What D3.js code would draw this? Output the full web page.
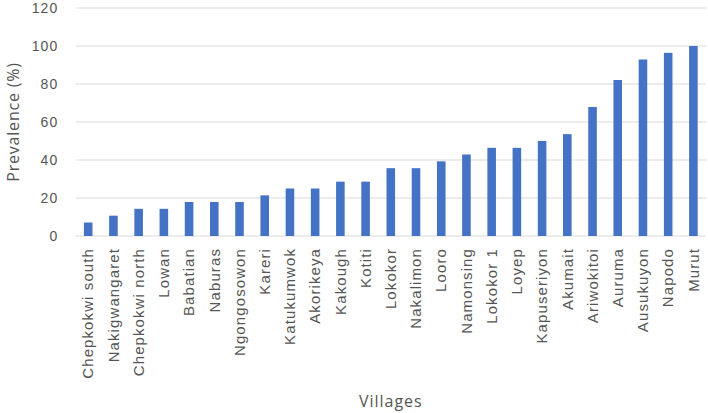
<!DOCTYPE html>
<html>
<head>
<meta charset="utf-8">
<script src="https://cdn.jsdelivr.net/npm/d3@7"></script>
<style>
  body { margin: 0; background: #fff; }
  svg { display: block; font-family: "Open Sans", "Liberation Sans", sans-serif; }
  .tick text { fill: #555; }
</style>
</head>
<body>
<div id="chart"></div>
<script>
"use strict";
const villages = ["Chepkokwi south", "Nakigwangaret", "Chepkokwi north", "Lowan", "Babatian",
    "Naburas", "Ngongosowon", "Kareri", "Katukumwok", "Akorikeya", "Kakough", "Kotiti",
    "Lokokor", "Nakalimon", "Looro", "Namonsing", "Lokokor 1", "Loyep", "Kapuseriyon",
    "Akumait", "Ariwokitoi", "Auruma", "Ausukuyon", "Napodo", "Murut"];
const prevalence = [7.1, 10.7, 14.3, 14.3, 17.9, 17.9, 17.9, 21.4, 25, 25, 28.6, 28.6,
    35.7, 35.7, 39.3, 42.9, 46.4, 46.4, 50, 53.6, 67.9, 82.1, 92.9, 96.4, 100];
const yTicks = [0, 20, 40, 60, 80, 100, 120];

var width = 708, height = 413;
var margin = { top: 8, right: 2, bottom: 177, left: 75.6 };
var plotW = width - margin.left - margin.right;
var plotH = height - margin.top - margin.bottom;

var svg = d3.select("#chart")
    .append("svg")
    .attr("width", width)
    .attr("height", height);

var g = svg.append("g")
    .attr("transform", `translate(${margin.left},${margin.top})`);

var xScale = d3.scaleBand().domain(villages).range([0, plotW]).paddingInner(0.66).paddingOuter(0.33);
var yScale = d3.scaleLinear().domain([0, 120]).range([plotH, 0]);

// gridlines
g.selectAll(".grid")
    .data(yTicks)
    .enter()
    .append("line")
    .attr("x1", 0)
    .attr("x2", plotW)
    .attr("y1", d => yScale(d))
    .attr("y2", d => yScale(d))
    .attr("stroke", "#d9d9d9")
    .attr("stroke-width", 1);

// y axis
var yAxis = g.append("g")
    .call(d3.axisLeft(yScale).tickValues(yTicks).tickSize(0).tickPadding(17));
yAxis.select(".domain").remove();
yAxis.selectAll("text")
    .style("font-size", "14px")
    .style("letter-spacing", "1.2px");

// bars
g.selectAll(".bar")
    .data(villages)
    .enter()
    .append("rect")
    .attr("class", "bar")
    .attr("x", d => xScale(d))
    .attr("width", xScale.bandwidth())
    .attr("y", (d, i) => yScale(prevalence[i]))
    .attr("height", (d, i) => plotH - yScale(prevalence[i]))
    .attr("fill", "#4472c4");

// x axis
var xAxis = g.append("g")
    .attr("transform", `translate(0,${plotH})`)
    .call(d3.axisBottom(xScale).tickSize(0).tickPadding(0));
xAxis.select(".domain").remove();
xAxis.selectAll("text")
    .attr("transform", "rotate(-90)")
    .attr("text-anchor", "end")
    .attr("dy", "0.35em")
    .attr("x", -12)
    .attr("y", 0)
    .style("font-size", "15px")
    .style("letter-spacing", "1.1px");

// axis titles
svg.append("text")
    .attr("transform", `translate(13,${margin.top + plotH / 2}) rotate(-90)`)
    .attr("text-anchor", "middle")
    .attr("dy", "0.35em")
    .attr("fill", "#555")
    .style("font-size", "16px")
    .style("letter-spacing", "0.8px")
    .text("Prevalence (%)");

svg.append("text")
    .attr("x", margin.left + plotW / 2)
    .attr("y", 401)
    .attr("text-anchor", "middle")
    .attr("dy", "0.35em")
    .attr("fill", "#555")
    .style("font-size", "16px")
    .style("letter-spacing", "1px")
    .text("Villages");
</script>
</body>
</html>
